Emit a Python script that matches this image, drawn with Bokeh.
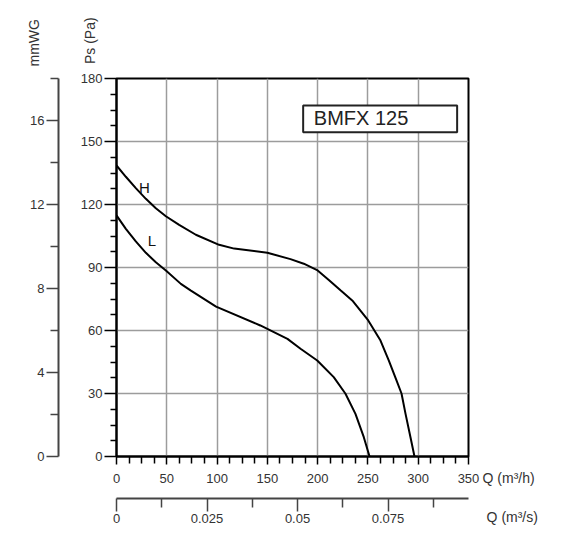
import numpy as np

from bokeh.embed import file_html
from bokeh.models import (
    BoxAnnotation,
    CustomJSTickFormatter,
    FixedTicker,
    Label,
    LinearAxis,
    Range1d,
)
from bokeh.plotting import figure
from bokeh.resources import INLINE

# ── Fan curves, Q in m³/h, static pressure Ps in Pa ──────────────────────────
H_Q = [0, 9.3, 19.2, 29.2, 39.1, 49.1, 62.3, 78.9, 102, 117, 150, 173, 186.2, 200,
       211.1, 223, 234.4, 250.3, 262.5, 270.8, 278.4, 283.4, 287.4, 292.3, 296.3]
H_PS = [138.6, 133.2, 127.8, 122.7, 118.2, 114.4, 110.3, 105.6, 100.8, 99, 97, 94,
        91.8, 88.6, 84.1, 79, 74.3, 64.8, 55.2, 45.7, 36.2, 30, 20.3, 9.2, 0]

L_Q = [0, 9.3, 19.2, 29.2, 39.1, 49.1, 64, 74, 99, 143, 170, 183, 199.6, 216,
       227.7, 237.6, 245.9, 251.6]
L_PS = [114.8, 108.4, 102.4, 97, 92.5, 88.6, 82.2, 79, 71.4, 62.4, 56, 51.3, 45.7,
        37.8, 29.9, 20.3, 9.2, 0]

# ── Axis ticks ────────────────────────────────────────────────────────────────
Q_TICKS = [0, 50, 100, 150, 200, 250, 300, 350]
Q_MINOR = [q + d for q in Q_TICKS[:-1] for d in (12.5, 25, 37.5)]
PS_TICKS = [0, 30, 60, 90, 120, 150, 180]
PS_MINOR = [p + d for p in PS_TICKS[:-1] for d in (7.5, 15, 22.5)]
MMWG_TICKS = [0, 4, 8, 12, 16]
MMWG_MINOR = [2, 6, 10, 14, 18]
QS_TICKS = [0, 0.025, 0.05, 0.075]
QS_MINOR = [0.0125, 0.0375, 0.0625, 0.0875]

FONT = "Liberation Sans"
TEXT = "#333333"
GRID = "#9c9c9c"

p = figure(
    width=566, height=545,
    x_range=Range1d(0, 350), y_range=Range1d(0, 180),
    output_backend="svg", toolbar_location=None,
    min_border_left=116, min_border_right=98,
    min_border_top=78, min_border_bottom=89,
)
p.extra_y_ranges = {"mmwg": Range1d(0, 18)}
p.extra_x_ranges = {"qs": Range1d(0, 350 / 3600)}

p.outline_line_color = "black"
p.outline_line_width = 2
p.background_fill_color = "white"

# ── Grid ──────────────────────────────────────────────────────────────────────
p.xgrid.ticker = FixedTicker(ticks=Q_TICKS)
p.ygrid.ticker = FixedTicker(ticks=PS_TICKS)
p.grid.grid_line_color = GRID
p.grid.grid_line_width = 1.5


def style_axis(ax, major, minor, color="black"):
    ax.axis_line_color = color
    ax.axis_line_width = 2
    ax.major_tick_line_color = color
    ax.minor_tick_line_color = color
    ax.major_tick_line_width = 1.5
    ax.minor_tick_line_width = 1.5
    ax.major_tick_in = 0
    ax.minor_tick_in = 0
    ax.major_tick_out = major
    ax.minor_tick_out = minor
    ax.major_label_text_font = FONT
    ax.major_label_text_font_size = "13px"
    ax.major_label_text_color = TEXT


# ── Main axes: Q (m³/h) and Ps (Pa) ───────────────────────────────────────────
xax = p.xaxis[0]
xax.ticker = FixedTicker(ticks=Q_TICKS, minor_ticks=Q_MINOR)
style_axis(xax, 8, 7)
xax.major_label_standoff = 9
xax.axis_label = " "
xax.axis_label_text_font_size = "1px"
xax.axis_label_standoff = 9

yax = p.yaxis[0]
yax.ticker = FixedTicker(ticks=PS_TICKS, minor_ticks=PS_MINOR)
style_axis(yax, 12, 6)
yax.major_label_standoff = 2
yax.axis_label = " "
yax.axis_label_text_font_size = "1px"
yax.axis_label_standoff = 15

# ── mmWG axis on the far left ─────────────────────────────────────────────────
mm_axis = LinearAxis(
    y_range_name="mmwg",
    ticker=FixedTicker(ticks=MMWG_TICKS, minor_ticks=MMWG_MINOR),
)
style_axis(mm_axis, 12, 8, color="#444444")
mm_axis.major_label_standoff = 2
p.add_layout(mm_axis, "left")

# ── Q (m³/s) axis underneath ──────────────────────────────────────────────────
qs_axis = LinearAxis(
    x_range_name="qs",
    ticker=FixedTicker(ticks=QS_TICKS, minor_ticks=QS_MINOR),
    formatter=CustomJSTickFormatter(code="""
        return tick == 0 ? '0' : String(parseFloat(tick.toFixed(4)));
    """),
)
style_axis(qs_axis, 13, 9, color="#444444")
qs_axis.major_label_standoff = 2
p.add_layout(qs_axis, "below")

# ── Curves ────────────────────────────────────────────────────────────────────
p.line(H_Q, H_PS, line_color="black", line_width=2)
p.line(L_Q, L_PS, line_color="black", line_width=2)

p.add_layout(Label(x=27.8, y=128.2, text="H", text_align="center", text_baseline="middle",
                   text_font=FONT, text_font_size="15px", text_color="#111111"))
p.add_layout(Label(x=35.1, y=102.9, text="L", text_align="center", text_baseline="middle",
                   text_font=FONT, text_font_size="15px", text_color="#111111"))

# ── Model box ─────────────────────────────────────────────────────────────────
p.add_layout(BoxAnnotation(
    left=185.6, right=338.7, bottom=154.4, top=167.1,
    fill_color="white", fill_alpha=1.0,
    line_color="#222222", line_alpha=1.0, line_width=2,
))
p.add_layout(Label(x=196.2, y=161.1, text="BMFX 125", text_align="left",
                   text_baseline="middle", text_font=FONT, text_font_size="20px",
                   text_color="#222222"))

# ── Axis titles (kept in side panels so they are not clipped) ─────────────────
p.add_layout(Label(x=-82.5, y=197, text="mmWG", angle=np.pi / 2,
                   text_align="center", text_baseline="middle",
                   text_font=FONT, text_font_size="14px", text_color=TEXT), "above")
p.add_layout(Label(x=364, y=-10, text="Q (m³/h)", text_align="left",
                   text_baseline="middle", text_font=FONT, text_font_size="14px",
                   text_color=TEXT), "above")
p.add_layout(Label(x=-25.9, y=198, text="Ps (Pa)", angle=np.pi / 2,
                   text_align="center", text_baseline="middle",
                   text_font=FONT, text_font_size="14px", text_color=TEXT), "right")
p.add_layout(Label(x=368, y=-29, text="Q (m³/s)", text_align="left",
                   text_baseline="middle", text_font=FONT, text_font_size="14px",
                   text_color=TEXT), "right")

open("out.html", "w").write(file_html(p, INLINE))
